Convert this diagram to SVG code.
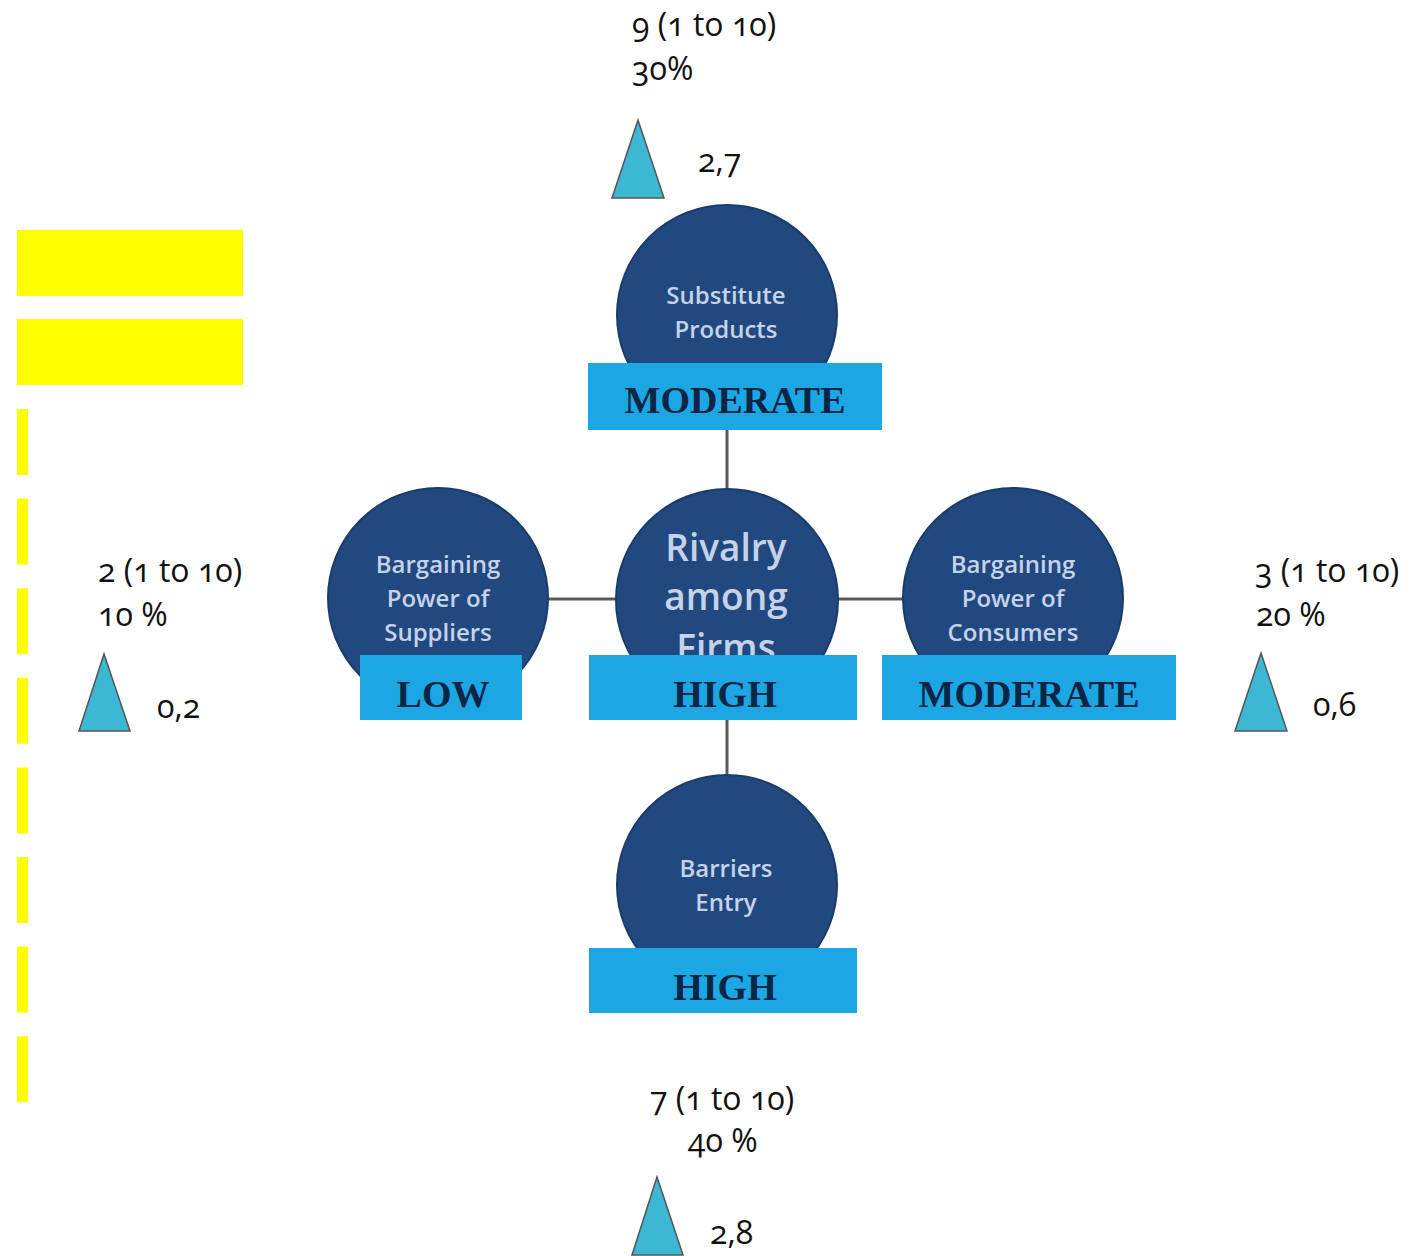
<svg xmlns="http://www.w3.org/2000/svg" width="1414" height="1256" viewBox="0 0 1414 1256">
<style>
.circ{fill:#22497f;stroke:#1a3c6c;stroke-width:2}
.box{fill:#1ca6e4}
.boxt{font-family:"Liberation Serif",serif;font-weight:bold;font-size:38px;fill:#0b2545;text-anchor:middle}
.ct{font-family:"Open Sans",sans-serif;font-weight:600;font-size:24px;fill:#c5d3ea;text-anchor:middle}
.big{font-size:37px}
.lbl{font-family:"Open Sans",sans-serif;font-size:32px;fill:#111;font-variant-numeric:oldstyle-nums;font-feature-settings:"onum"}
.tri{fill:#3db8d4;stroke:#555;stroke-width:1.5}
.conn{stroke:#5a5a5a;stroke-width:3;fill:none}
.yel{fill:#ffff00}
</style>
<rect width="1414" height="1256" fill="#ffffff"/>
<g id="legend">
<rect class="yel" x="17" y="230" width="226" height="66"/>
<rect class="yel" x="17" y="319" width="226" height="66"/>
<line x1="22.5" y1="409" x2="22.5" y2="1102.5" stroke="#ffff00" stroke-width="11" stroke-dasharray="66 23.6"/>
</g>
<g id="connectors">
<line class="conn" x1="727" y1="428" x2="727" y2="492"/>
<line class="conn" x1="727" y1="718" x2="727" y2="777"/>
<line class="conn" x1="546" y1="599" x2="617" y2="599"/>
<line class="conn" x1="837" y1="599" x2="905" y2="599"/>
</g>
<g id="substitute">
<circle class="circ" cx="727" cy="315" r="110"/>
<text class="ct" x="726" y="304">Substitute</text>
<text class="ct" x="726" y="338">Products</text>
<rect class="box" x="588" y="363" width="294" height="67"/>
<text class="boxt" x="735" y="413">MODERATE</text>
</g>
<g id="suppliers">
<circle class="circ" cx="438" cy="598" r="110"/>
<text class="ct" x="438" y="573">Bargaining</text>
<text class="ct" x="438" y="607">Power of</text>
<text class="ct" x="438" y="641">Suppliers</text>
<rect class="box" x="360" y="655" width="162" height="65"/>
<text class="boxt" x="443" y="707">LOW</text>
</g>
<g id="rivalry">
<circle class="circ" cx="727" cy="600" r="111"/>
<text class="ct big" x="726" y="561">Rivalry</text>
<text class="ct big" x="726" y="610">among</text>
<text class="ct big" x="726" y="661">Firms</text>
<rect class="box" x="589" y="655" width="268" height="65"/>
<text class="boxt" x="725" y="707">HIGH</text>
</g>
<g id="consumers">
<circle class="circ" cx="1013" cy="598" r="110"/>
<text class="ct" x="1013" y="573">Bargaining</text>
<text class="ct" x="1013" y="607">Power of</text>
<text class="ct" x="1013" y="641">Consumers</text>
<rect class="box" x="882" y="655" width="294" height="65"/>
<text class="boxt" x="1029" y="707">MODERATE</text>
</g>
<g id="barriers">
<circle class="circ" cx="727" cy="885" r="110"/>
<text class="ct" x="726" y="877">Barriers</text>
<text class="ct" x="726" y="911">Entry</text>
<rect class="box" x="589" y="948" width="268" height="65"/>
<text class="boxt" x="725" y="1000">HIGH</text>
</g>
<g id="score-top">
<text class="lbl" x="632" y="36">9 (1 to 10)</text>
<text class="lbl" x="632" y="80">30%</text>
<polygon class="tri" points="638,120 612,198 664,198"/>
<text class="lbl" x="698" y="172">2,7</text>
</g>
<g id="score-left">
<text class="lbl" x="98" y="582">2 (1 to 10)</text>
<text class="lbl" x="98" y="626">10 %</text>
<polygon class="tri" points="104,654 79,731 130,731"/>
<text class="lbl" x="157" y="718">0,2</text>
</g>
<g id="score-right">
<text class="lbl" x="1255" y="582">3 (1 to 10)</text>
<text class="lbl" x="1256" y="626">20 %</text>
<polygon class="tri" points="1261,653 1235,731 1287,731"/>
<text class="lbl" x="1313" y="716">0,6</text>
</g>
<g id="score-bottom">
<text class="lbl" x="650" y="1110">7 (1 to 10)</text>
<text class="lbl" x="688" y="1152">40 %</text>
<polygon class="tri" points="657,1177 632,1255 683,1255"/>
<text class="lbl" x="710" y="1244">2,8</text>
</g>
</svg>
